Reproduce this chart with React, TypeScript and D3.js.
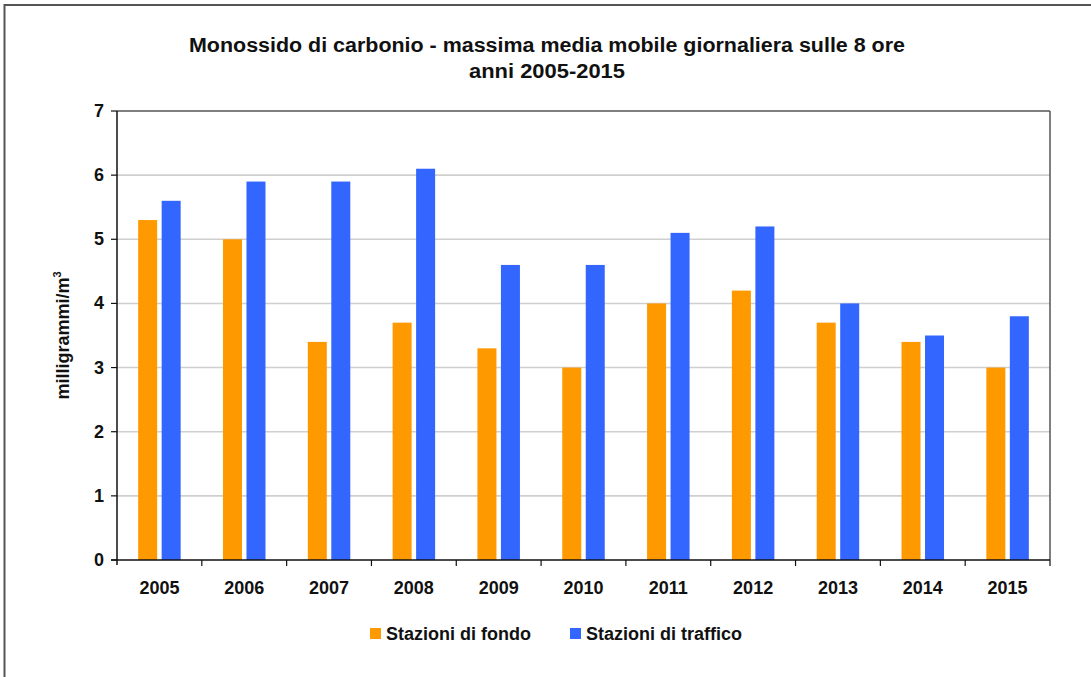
import React from "react";
import * as d3 from "d3";

// Anni e valori (mg/m³) della massima media mobile giornaliera sulle 8 ore
const years = ["2005", "2006", "2007", "2008", "2009", "2010", "2011", "2012", "2013", "2014", "2015"];
const fondo = [5.3, 5.0, 3.4, 3.7, 3.3, 3.0, 4.0, 4.2, 3.7, 3.4, 3.0];
const traffico = [5.6, 5.9, 5.9, 6.1, 4.6, 4.6, 5.1, 5.2, 4.0, 3.5, 3.8];
const yTicks = [0, 1, 2, 3, 4, 5, 6, 7];
const seriesNames = ["Stazioni di fondo", "Stazioni di traffico"];
const seriesColors = ["#FF9900", "#3366FF"];

const W = 1091;
const H = 677;
const plot = { left: 117, right: 1050, top: 111, bottom: 560 };
const font = "'Liberation Sans', Arial, sans-serif";
const labelSize = 18;

export default function App() {
  const x = d3.scaleBand<string>().domain(years).range([plot.left, plot.right]);
  const y = d3.scaleLinear().domain([0, 7]).range([plot.bottom, plot.top]);
  const barW = 19;
  const gap = 4.5;
  const series = [fondo, traffico];

  return (
    <svg
      width={W}
      height={H}
      style={{ position: "absolute", left: 0, top: 0, background: "#fff" }}
      fontFamily={font}
    >
      {/* cornice esterna */}
      <rect x={4.5} y={5} width={W + 20} height={H + 20} fill="none" stroke="#555" strokeWidth={2} />

      {/* titolo */}
      <text x={547} y={52} textAnchor="middle" fontSize={19.5} fontWeight="bold" fill="#111"
        textLength={716} lengthAdjust="spacingAndGlyphs">
        Monossido di carbonio - massima media mobile giornaliera sulle 8 ore
      </text>
      <text x={547} y={78} textAnchor="middle" fontSize={19.5} fontWeight="bold" fill="#111"
        textLength={156} lengthAdjust="spacingAndGlyphs">
        anni 2005-2015
      </text>

      {/* griglia orizzontale */}
      {yTicks.filter((t) => t > 0 && t < 7).map((t) => (
        <line key={t} x1={plot.left} x2={plot.right} y1={y(t)} y2={y(t)} stroke="#cfcfcf" strokeWidth={1.6} />
      ))}

      {/* barre */}
      {years.map((yr, i) => {
        const cx = (x(yr) as number) + x.bandwidth() / 2;
        return series.map((s, k) => {
          const bx = k === 0 ? cx - gap / 2 - barW : cx + gap / 2;
          return (
            <rect key={yr + k} x={bx} y={y(s[i])} width={barW} height={y(0) - y(s[i])} fill={seriesColors[k]} />
          );
        });
      })}

      {/* bordo area del grafico */}
      <line x1={plot.left} x2={plot.right} y1={plot.top} y2={plot.top} stroke="#555" strokeWidth={1.5} />
      <line x1={plot.right} x2={plot.right} y1={plot.top} y2={plot.bottom} stroke="#555" strokeWidth={1.5} />
      <line x1={plot.left} x2={plot.left} y1={plot.top} y2={plot.bottom + 5} stroke="#111" strokeWidth={1.5} />
      <line x1={plot.left - 6} x2={plot.right} y1={plot.bottom} y2={plot.bottom} stroke="#111" strokeWidth={1.5} />

      {/* asse y */}
      {yTicks.map((t) => (
        <g key={t}>
          <line x1={plot.left - 6} x2={plot.left} y1={y(t)} y2={y(t)} stroke="#111" strokeWidth={1.2} />
          <text x={104} y={y(t) + 6} textAnchor="end" fontSize={labelSize} fontWeight="bold" fill="#111">
            {t}
          </text>
        </g>
      ))}
      <text transform={`translate(69, ${(plot.top + plot.bottom) / 2}) rotate(-90)`} textAnchor="middle"
        fontSize={labelSize} fontWeight="bold" fill="#111">
        milligrammi/m<tspan dy={-8} fontSize={11}>3</tspan>
      </text>

      {/* asse x */}
      {years.map((yr) => (
        <line key={"t" + yr} x1={(x(yr) as number) + x.bandwidth()} x2={(x(yr) as number) + x.bandwidth()}
          y1={plot.bottom} y2={plot.bottom + 6} stroke="#111" strokeWidth={1.2} />
      ))}
      {years.map((yr) => (
        <text key={"l" + yr} x={(x(yr) as number) + x.bandwidth() / 2} y={594} textAnchor="middle"
          fontSize={labelSize} fontWeight="bold" fill="#111">
          {yr}
        </text>
      ))}

      {/* legenda */}
      {seriesNames.map((n, k) => {
        const lx = k === 0 ? 370 : 570;
        return (
          <g key={n}>
            <rect x={lx} y={628} width={11} height={11} fill={seriesColors[k]} />
            <text x={lx + 16} y={640} fontSize={labelSize} fontWeight="bold" fill="#111">
              {n}
            </text>
          </g>
        );
      })}
    </svg>
  );
}
